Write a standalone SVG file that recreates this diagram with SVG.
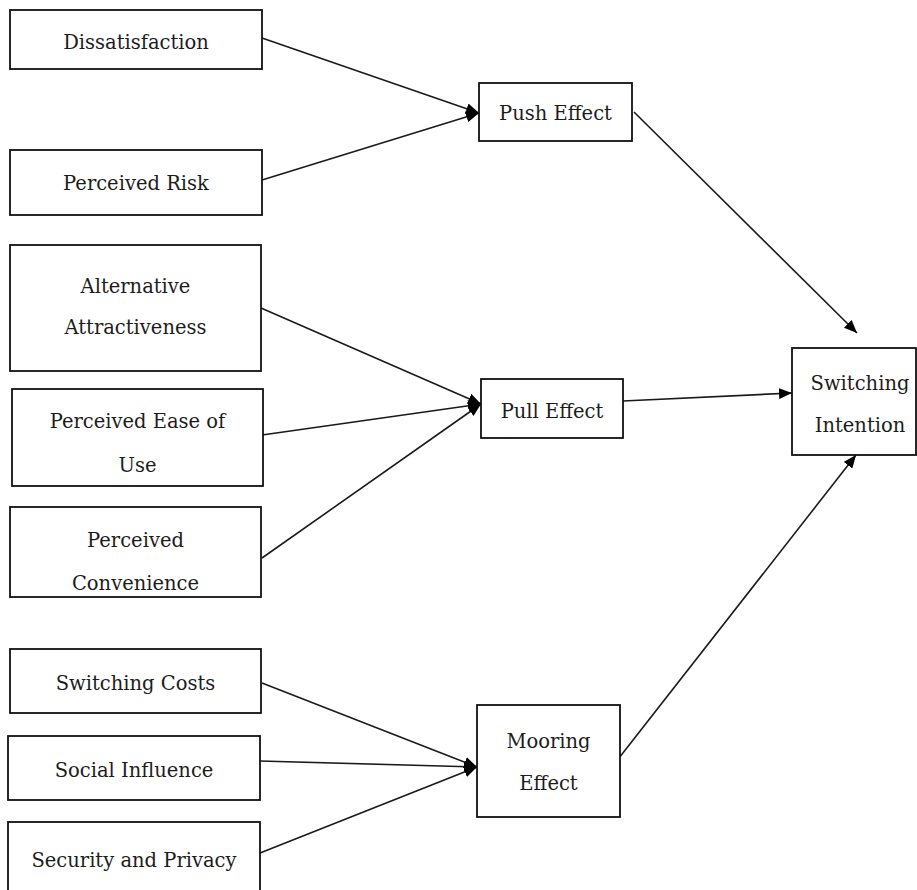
<svg xmlns="http://www.w3.org/2000/svg" width="917" height="890" viewBox="0 0 917 890">
<style>
.box{fill:#fff;stroke:#111;stroke-width:1.8}
.t{font-family:'DejaVu Serif',serif;font-size:19.5px;fill:#1c1c1c;text-anchor:middle}
.c{stroke:#1a1a1a;stroke-width:1.6;fill:none;marker-end:url(#ah)}
</style>
<defs>
<marker id="ah" markerUnits="userSpaceOnUse" markerWidth="13" markerHeight="11" refX="13" refY="5.5" orient="auto">
<path d="M0,0 L13,5.5 L0,11 z" fill="#000"/>
</marker>
</defs>
<rect width="917" height="890" fill="#fff"/>
<g id="connectors">
<line class="c" x1="262" y1="38" x2="479" y2="113"/>
<line class="c" x1="262" y1="180" x2="479" y2="113"/>
<line class="c" x1="634" y1="112" x2="857" y2="333"/>
<line class="c" x1="261" y1="308" x2="481" y2="404"/>
<line class="c" x1="262" y1="435" x2="481" y2="404"/>
<line class="c" x1="262" y1="558" x2="481" y2="404"/>
<line class="c" x1="623" y1="401" x2="792" y2="393"/>
<line class="c" x1="262" y1="683" x2="477" y2="767"/>
<line class="c" x1="260" y1="761" x2="477" y2="767"/>
<line class="c" x1="260" y1="853" x2="477" y2="767"/>
<line class="c" x1="619" y1="758" x2="856" y2="455"/>
</g>
<g id="dissatisfaction"><rect class="box" x="10" y="10" width="252" height="59"/><text class="t" x="136" y="49">Dissatisfaction</text></g>
<g id="perceived-risk"><rect class="box" x="10" y="150" width="252" height="65"/><text class="t" x="136" y="190">Perceived Risk</text></g>
<g id="push-effect"><rect class="box" x="479" y="83" width="153" height="58"/><text class="t" x="555.5" y="120">Push Effect</text></g>
<g id="alternative-attractiveness"><rect class="box" x="10" y="245" width="251" height="126"/><text class="t" x="135.5" y="293">Alternative</text><text class="t" x="135.5" y="334">Attractiveness</text></g>
<g id="perceived-ease-of-use"><rect class="box" x="12" y="389" width="251" height="97"/><text class="t" x="137.5" y="428">Perceived Ease of</text><text class="t" x="137.5" y="472">Use</text></g>
<g id="perceived-convenience"><rect class="box" x="10" y="507" width="251" height="90"/><text class="t" x="135.5" y="547">Perceived</text><text class="t" x="135.5" y="590">Convenience</text></g>
<g id="pull-effect"><rect class="box" x="481" y="379" width="142" height="59"/><text class="t" x="552" y="418">Pull Effect</text></g>
<g id="switching-intention"><rect class="box" x="792" y="348" width="124" height="107"/><text class="t" x="860" y="390">Switching</text><text class="t" x="860" y="432">Intention</text></g>
<g id="switching-costs"><rect class="box" x="10" y="649" width="251" height="64"/><text class="t" x="135.5" y="690">Switching Costs</text></g>
<g id="social-influence"><rect class="box" x="8" y="736" width="252" height="64"/><text class="t" x="134" y="777">Social Influence</text></g>
<g id="security-and-privacy"><rect class="box" x="8" y="822" width="252" height="80"/><text class="t" x="134" y="867">Security and Privacy</text></g>
<g id="mooring-effect"><rect class="box" x="477" y="705" width="143" height="112"/><text class="t" x="548.5" y="748">Mooring</text><text class="t" x="548.5" y="790">Effect</text></g>
</svg>
